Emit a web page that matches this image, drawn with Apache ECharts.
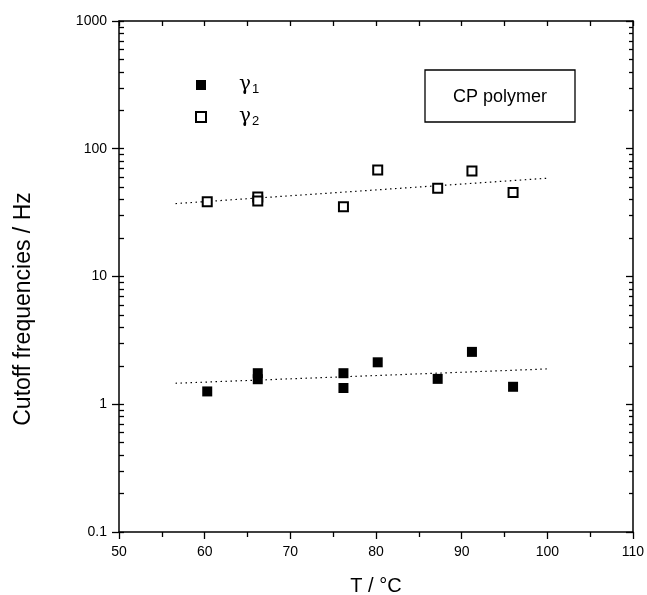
<!DOCTYPE html>
<html><head><meta charset="utf-8">
<script src="https://cdn.jsdelivr.net/npm/echarts@6/dist/echarts.min.js"></script>
<style>html,body{margin:0;padding:0;background:#fff}#c{width:647px;height:595px}</style>
</head><body><div id="c"></div>
<script>
// ---- data ----
const tempG1 = [60.3, 66.2, 66.2, 76.2, 76.2, 80.2, 87.2, 91.2, 96.0];
const freqG1 = [1.26, 1.75, 1.57, 1.75, 1.34, 2.13, 1.58, 2.57, 1.37];
const tempG2 = [60.3, 66.2, 66.2, 76.2, 80.2, 87.2, 91.2, 96.0];
const freqG2 = [38.5, 42.0, 39.0, 35.2, 68.3, 49.1, 67.0, 45.4];
const fitT = [56.6, 100];
const fitG1 = [1.46, 1.89];
const fitG2 = [37.2, 58.8];
const yMajor = [0.1, 1, 10, 100, 1000];
const yMinorMult = [2, 3, 4, 5, 6, 7, 8, 9];
const xMin = 50, xMax = 110, xStep = 10;

const yMinor = [];
yMajor.slice(0, -1).forEach(d => yMinorMult.forEach(k => yMinor.push(+(d * k).toPrecision(3))));
const yAll = yMajor.concat(yMinor);

const FONT = "'Liberation Sans', Arial, Helvetica, sans-serif";
const pair = (a, b) => a.map((v, i) => [v, b[i]]);

const chart = echarts.init(document.getElementById('c'), null, {renderer: 'canvas'});
const lineStyle = {color: '#000', width: 1.5};
const yBase = {type: 'log', logBase: 10, min: 0.1, max: 1000, splitLine: {show: false}};

chart.setOption({
  animation: false,
  backgroundColor: '#fff',
  grid: {left: 119, right: 14, top: 21, bottom: 63, containLabel: false, outerBoundsMode: 'none'},
  legend: {
    orient: 'vertical', left: 190, top: 68, itemWidth: 10, itemHeight: 10, itemGap: 9,
    data: ['g1', 'g2'],
    formatter: n => n === 'g1' ? '{g|γ}{s|1}' : '{g|γ}{s|2}',
    textStyle: {
      rich: {
        g: {fontFamily: "'DejaVu Serif', 'Liberation Serif', serif", fontSize: 20, color: '#000', padding: [0, 0, 0, 28], lineHeight: 22},
        s: {fontFamily: FONT, fontSize: 13, color: '#000', verticalAlign: 'bottom', padding: [10, 0, 0, 1], lineHeight: 22}
      }
    }
  },
  xAxis: [
    {type: 'value', position: 'bottom', min: xMin, max: xMax, interval: xStep,
     axisLine: {lineStyle: lineStyle}, axisTick: {inside: false, length: 7, lineStyle: {color: '#000', width: 1.3}},
     minorTick: {show: true, splitNumber: 2, length: 5, lineStyle: {color: '#000', width: 1.3}},
     axisLabel: {color: '#000', fontFamily: FONT, fontSize: 14, margin: 13},
     splitLine: {show: false},
     name: 'T / °C', nameLocation: 'middle', nameGap: 44,
     nameTextStyle: {color: '#000', fontFamily: FONT, fontSize: 20}},
    {type: 'value', position: 'top', min: xMin, max: xMax, interval: xStep / 2,
     axisLine: {lineStyle: lineStyle}, axisTick: {inside: true, length: 5, lineStyle: {color: '#000', width: 1.3}},
     axisLabel: {show: false}, splitLine: {show: false}}
  ],
  yAxis: [
    Object.assign({}, yBase, {position: 'left',
      axisLine: {lineStyle: lineStyle},
      axisTick: {inside: false, length: 7, lineStyle: {color: '#000', width: 1.3}},
      axisLabel: {color: '#000', fontFamily: FONT, fontSize: 14, margin: 12,
                  formatter: v => String(+(+v).toPrecision(3))}}),
    Object.assign({}, yBase, {position: 'left',
      axisLine: {show: false},
      axisTick: {inside: true, length: 5, customValues: yAll, lineStyle: {color: '#000', width: 1.3}},
      axisLabel: {show: false}}),
    Object.assign({}, yBase, {position: 'right',
      axisLine: {lineStyle: lineStyle},
      axisTick: {inside: true, length: 7, lineStyle: {color: '#000', width: 1.3}},
      axisLabel: {show: false}}),
    Object.assign({}, yBase, {position: 'right',
      axisLine: {show: false},
      axisTick: {inside: true, length: 4, customValues: yMinor, lineStyle: {color: '#000', width: 1.3}},
      axisLabel: {show: false}})
  ],
  graphic: [
    {type: 'text', x: 24, y: 309, rotation: Math.PI / 2,
     style: {text: 'Cutoff frequencies / Hz', font: '23px ' + FONT, fill: '#000', align: 'center', verticalAlign: 'middle'}},
    {type: 'rect', shape: {x: 425, y: 70, width: 150, height: 52},
     style: {fill: '#fff', stroke: '#000', lineWidth: 1.3}, z: 10},
    {type: 'text', x: 500, y: 97, z: 11,
     style: {text: 'CP polymer', font: '18px ' + FONT, fill: '#000', align: 'center', verticalAlign: 'middle'}}
  ],
  series: [
    {name: 'fitG1', type: 'line', data: pair(fitT, fitG1), symbol: 'none', silent: true,
     lineStyle: {color: '#000', width: 1.2, type: [1.5, 3.5]}},
    {name: 'fitG2', type: 'line', data: pair(fitT, fitG2), symbol: 'none', silent: true,
     lineStyle: {color: '#000', width: 1.2, type: [1.5, 3.5]}},
    {name: 'g1', type: 'scatter', data: pair(tempG1, freqG1), symbol: 'rect', symbolSize: 10,
     itemStyle: {color: '#000', borderColor: '#000', borderWidth: 0, opacity: 1}, z: 5},
    {name: 'g2', type: 'scatter', data: pair(tempG2, freqG2), symbol: 'rect', symbolSize: 9,
     itemStyle: {color: '#fff', borderColor: '#000', borderWidth: 2, opacity: 1}, z: 5}
  ]
});
</script>
</body></html>
